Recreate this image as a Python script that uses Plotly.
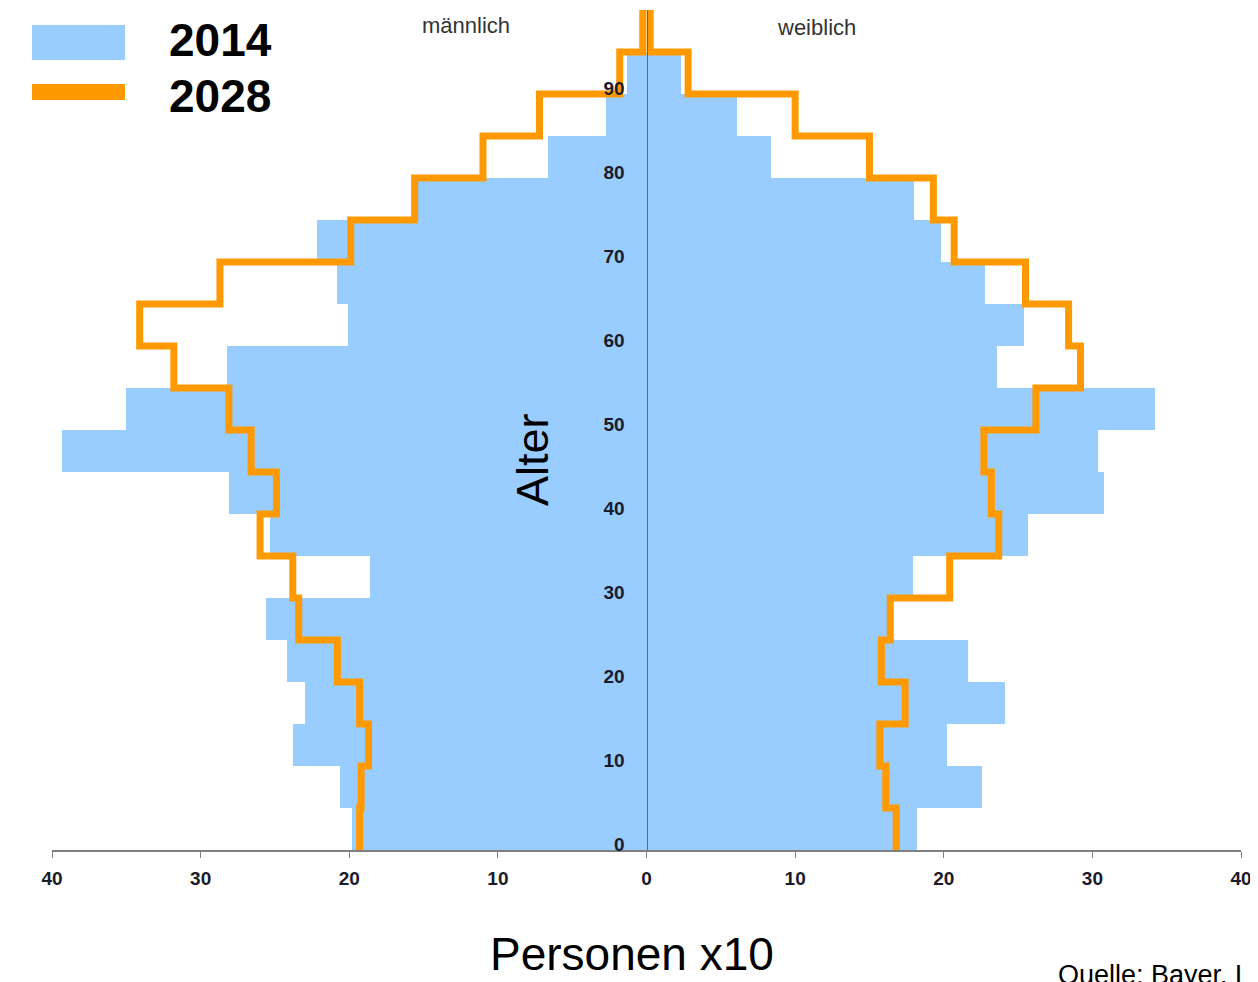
import plotly.graph_objects as go

# Age bands (start of each 5-year band)
age_start = [0, 5, 10, 15, 20, 25, 30, 35, 40, 45, 50, 55, 60, 65, 70, 75, 80, 85, 90, 95]
band = 5
age_top = 100

# 2014 (bars), Personen x10
male_2014 = [19.8, 20.6, 23.8, 23.0, 24.2, 25.6, 18.6, 25.3, 28.1, 39.3,
             35.0, 28.2, 20.1, 20.8, 22.2, 15.5, 6.6, 2.7, 1.3, 0.0]
female_2014 = [18.2, 22.6, 20.2, 24.1, 21.6, 16.2, 17.9, 25.7, 30.8, 30.4,
               34.2, 23.6, 25.4, 22.8, 19.8, 18.0, 8.4, 6.1, 2.3, 0.0]

# 2028 (step line), Personen x10
male_2028 = [19.3, 19.2, 18.7, 19.3, 20.8, 23.4, 23.8, 26.0, 24.9, 26.6,
             28.1, 31.8, 34.1, 28.7, 19.9, 15.6, 11.0, 7.2, 1.8, 0.25]
female_2028 = [16.8, 16.1, 15.7, 17.4, 15.8, 16.4, 20.4, 23.7, 23.2, 22.7,
               26.2, 29.2, 28.4, 25.5, 20.7, 19.3, 15.0, 10.0, 2.8, 0.25]

x_ticks = [-40, -30, -20, -10, 0, 10, 20, 30, 40]
x_ticktext = ["40", "30", "20", "10", "0", "10", "20", "30", "40"]
y_ticks = [0, 10, 20, 30, 40, 50, 60, 70, 80, 90]
y_ticktext = ["0", "10", "20", "30", "40", "50", "60", "70", "80", "90"]

BLUE = "#99CCFF"
ORANGE = "#FF9900"
FONT = "Liberation Sans, Arial, sans-serif"

# page body has an 8px margin; figure sized to fit the window
OFF = 8
W, H = 1250, 974
ML, MT = 44, 2
PW, PH = 1189, 840
MR, MB = W - ML - PW, H - MT - PH


def px(xs):
    return (xs - OFF - ML) / PW


def py(ys):
    return (MT + PH - (ys - OFF)) / PH


centers = [a + band / 2 for a in age_start]

fig = go.Figure()

fig.add_trace(go.Bar(
    y=centers, x=[-v for v in male_2014], base=0, orientation="h",
    width=band, marker=dict(color=BLUE, line=dict(width=0)),
    name="2014 männlich", showlegend=False, hoverinfo="skip"))
fig.add_trace(go.Bar(
    y=centers, x=female_2014, base=0, orientation="h",
    width=band, marker=dict(color=BLUE, line=dict(width=0)),
    name="2014 weiblich", showlegend=False, hoverinfo="skip"))

step_y = age_start + [age_top]
fig.add_trace(go.Scatter(
    x=[-v for v in male_2028] + [-male_2028[-1]], y=step_y,
    mode="lines", line=dict(color=ORANGE, width=7, shape="vh"),
    name="2028 männlich", showlegend=False, hoverinfo="skip"))
fig.add_trace(go.Scatter(
    x=female_2028 + [female_2028[-1]], y=step_y,
    mode="lines", line=dict(color=ORANGE, width=7, shape="vh"),
    name="2028 weiblich", showlegend=False, hoverinfo="skip"))

tick_font = dict(family=FONT, size=19, color="#1a1a2a", weight="bold")

fig.update_layout(
    width=W, height=H,
    margin=dict(l=ML, r=MR, t=MT, b=MB, pad=0),
    paper_bgcolor="white", plot_bgcolor="white",
    barmode="overlay", bargap=0,
    xaxis=dict(range=[-40, 40], tickvals=x_ticks, ticktext=x_ticktext,
               showgrid=False, zeroline=False, showline=True,
               linecolor="#7f7f7f", linewidth=2, ticks="outside",
               ticklen=6, tickcolor="#7f7f7f", tickfont=tick_font,
               ticklabelstandoff=4),
    yaxis=dict(range=[0, age_top], tickvals=y_ticks, ticktext=y_ticktext,
               anchor="free", position=0.5, side="left",
               showgrid=False, zeroline=False, showline=True,
               linecolor="#5b6b7b", linewidth=1, ticks="",
               tickfont=tick_font, ticklabelstandoff=18, ticklabelshift=-6),
    font=dict(family=FONT),
    showlegend=False,
)

# custom legend
fig.add_shape(type="rect", xref="paper", yref="paper",
              x0=px(32), x1=px(125), y0=py(60), y1=py(25),
              fillcolor=BLUE, line=dict(width=0))
fig.add_shape(type="rect", xref="paper", yref="paper",
              x0=px(32), x1=px(125), y0=py(100), y1=py(84),
              fillcolor=ORANGE, line=dict(width=0))

big_bold = dict(family=FONT, size=46, color="black")
fig.add_annotation(text="<b>2014</b>", xref="paper", yref="paper",
                   x=px(167), y=py(40), xanchor="left", yanchor="middle",
                   showarrow=False, font=big_bold)
fig.add_annotation(text="<b>2028</b>", xref="paper", yref="paper",
                   x=px(167), y=py(96), xanchor="left", yanchor="middle",
                   showarrow=False, font=big_bold)

small = dict(family=FONT, size=22, color="#333333")
fig.add_annotation(text="männlich", xref="paper", yref="paper",
                   x=px(466), y=py(25), xanchor="center", yanchor="middle",
                   showarrow=False, font=small)
fig.add_annotation(text="weiblich", xref="paper", yref="paper",
                   x=px(816), y=py(27), xanchor="center", yanchor="middle",
                   showarrow=False, font=small)

fig.add_annotation(text="Alter", xref="paper", yref="paper",
                   x=px(532), y=py(460), xanchor="center", yanchor="middle",
                   textangle=-90, showarrow=False,
                   font=dict(family=FONT, size=45, color="black"))
fig.add_annotation(text="Personen x10", xref="paper", yref="paper",
                   x=px(632), y=py(954), xanchor="center", yanchor="middle",
                   showarrow=False,
                   font=dict(family=FONT, size=46, color="black"))
fig.add_annotation(text="Quelle: Bayer. Landesamt für Statistik", xref="paper", yref="paper",
                   x=px(1056), y=py(958), xanchor="left", yanchor="top",
                   showarrow=False,
                   font=dict(family=FONT, size=27, color="black"))

fig.write_html("out.html")
